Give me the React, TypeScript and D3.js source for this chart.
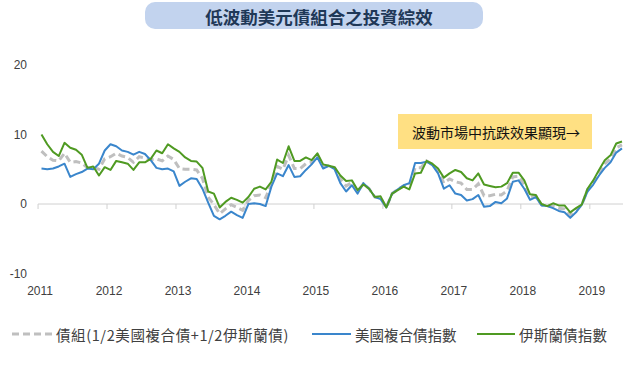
import React, { useEffect, useRef } from 'react';
import * as d3 from 'd3';

// 年度刻度
const years = ['2011', '2012', '2013', '2014', '2015', '2016', '2017', '2018', '2019'];
const yTicks = [-10, 0, 10, 20];

const seriesNames = ['債組(1/2美國複合債+1/2伊斯蘭債)', '美國複合債指數', '伊斯蘭債指數'];

// 月資料 2011/01 - 2019/06 (%)
const usAgg = [
  5.1, 5.0, 5.1, 5.4, 5.8, 3.9, 4.3, 4.6, 5.1, 5.0, 5.8, 7.7,
  8.6, 8.3, 7.7, 7.5, 7.1, 7.5, 7.2, 6.3, 5.2, 5.0, 5.1, 4.7,
  2.6, 3.2, 3.7, 3.6, 2.2, 0.2, -1.7, -2.2, -1.7, -1.1, -1.6, -2.0,
  0.0, 0.1, 0.0, -0.3, 2.5, 4.4, 4.0, 5.6, 3.9, 4.0, 4.9, 5.7,
  6.7, 5.1, 5.5, 5.0, 3.0, 1.8, 2.7, 1.5, 3.0, 2.2, 1.0, 0.7,
  -0.5, 1.5, 2.1, 2.7, 3.0, 5.9, 5.9, 6.1, 5.6, 4.4, 2.2, 2.7,
  1.5, 1.3, 0.5, 0.7, 1.3, -0.4, -0.3, 0.3, 0.1, 0.8, 3.2, 3.4,
  2.2, 0.6, 1.0, -0.2, -0.3, -0.6, -1.0, -1.2, -2.0, -1.2, -0.1, 1.8,
  2.8, 4.1, 5.2, 6.0, 7.4, 8.0,
];

const islamic = [
  10.0, 8.6, 7.5, 6.9, 8.8, 8.1, 7.8, 7.1, 5.2, 5.4, 4.1, 5.3,
  4.9, 6.2, 6.0, 5.8, 4.9, 6.0, 6.0, 6.5, 7.7, 7.3, 8.6, 8.0,
  7.5, 6.7, 6.2, 6.1, 5.2, 1.8, 1.5, -0.5, 0.3, 0.9, 0.6, 0.2,
  1.0, 2.2, 2.5, 2.1, 3.2, 6.4, 5.9, 8.3, 6.2, 6.2, 6.7, 6.3,
  7.3, 5.7, 5.5, 5.3, 4.1, 3.3, 3.4, 2.0, 2.8, 2.2, 1.0, 1.1,
  -0.5, 1.5, 2.0, 2.5, 2.1, 4.4, 4.5, 6.2, 5.8, 5.1, 3.8, 4.4,
  4.9, 4.6, 3.7, 3.4, 4.4, 2.8, 2.6, 2.4, 2.5, 3.0, 4.5, 4.5,
  3.4, 1.4, 1.3, 0.0, -0.3, 0.1, -0.2, -0.2, -1.2, -0.6, -0.1, 2.2,
  3.4, 4.9, 6.3, 7.0, 8.7, 9.0,
];

const blend = [
  7.6, 6.8, 6.3, 6.2, 7.3, 6.0, 6.1, 5.9, 5.2, 5.2, 5.0, 6.5,
  6.8, 7.3, 6.9, 6.7, 6.0, 6.8, 6.6, 6.4, 6.5, 6.2, 6.9, 6.4,
  5.1, 5.0, 5.0, 4.9, 3.7, 1.0, -0.1, -1.4, -0.7, -0.1, -0.5, -0.9,
  0.5, 1.2, 1.3, 0.9, 2.9, 5.4, 5.0, 7.0, 5.1, 5.1, 5.8, 6.0,
  7.0, 5.4, 5.5, 5.2, 3.6, 2.6, 3.1, 1.8, 2.9, 2.2, 1.0, 0.9,
  -0.5, 1.5, 2.1, 2.6, 2.6, 5.2, 5.2, 6.2, 5.7, 4.8, 3.0, 3.6,
  3.2, 3.0, 2.1, 2.1, 2.9, 1.2, 1.2, 1.4, 1.3, 1.9, 3.9, 4.0,
  2.8, 1.0, 1.2, -0.1, -0.3, -0.3, -0.6, -0.7, -1.6, -0.9, -0.1, 2.0,
  3.1, 4.5, 5.8, 6.5, 8.1, 8.5,
];

const CJK = '"Noto Sans CJK TC", "Noto Sans", sans-serif';
const NUM = '"Liberation Sans", Arial, sans-serif';

export default function App() {
  const svgRef = useRef<SVGSVGElement>(null);

  useEffect(() => {
    if (!svgRef.current) return;
    document.body.style.margin = '0';

    const svg = d3.select(svgRef.current);
    svg.selectAll('*').remove();

    const x = d3.scaleLinear().domain([0, usAgg.length - 1]).range([41.5, 622]);
    const y = d3.scaleLinear().domain([-10, 20]).range([273.5, 65]);

    // 標題
    svg.append('rect')
      .attr('x', 145).attr('y', 2).attr('width', 338).attr('height', 27)
      .attr('rx', 10).attr('fill', '#c2d3ee');
    svg.append('text')
      .attr('x', 319).attr('y', 16)
      .attr('text-anchor', 'middle').attr('dominant-baseline', 'central')
      .attr('font-family', CJK).attr('font-size', 17.5).attr('font-weight', 'bold')
      .attr('fill', '#1f3857')
      .text('低波動美元債組合之投資綜效');

    // y 軸標籤
    svg.append('g').selectAll('text')
      .data(yTicks).enter().append('text')
      .attr('x', 27).attr('y', d => y(d))
      .attr('text-anchor', 'end').attr('dominant-baseline', 'central')
      .attr('font-family', NUM).attr('font-size', 12).attr('fill', '#404040')
      .text(d => d);

    // x 軸 (0 線)
    const yearPos = (k: number) => x(12 * k - 0.6);
    svg.append('line')
      .attr('x1', yearPos(0)).attr('x2', x(usAgg.length - 1) + 1)
      .attr('y1', y(0)).attr('y2', y(0))
      .attr('stroke', '#d0d0d0').attr('stroke-width', 1);
    svg.append('g').selectAll('line')
      .data(years).enter().append('line')
      .attr('x1', (_, i) => yearPos(i)).attr('x2', (_, i) => yearPos(i))
      .attr('y1', y(0)).attr('y2', y(0) + 5)
      .attr('stroke', '#d0d0d0');
    svg.append('g').selectAll('text')
      .data(years).enter().append('text')
      .attr('x', (_, i) => yearPos(i) + 2).attr('y', 291)
      .attr('text-anchor', 'middle').attr('dominant-baseline', 'central')
      .attr('font-family', NUM).attr('font-size', 12).attr('fill', '#404040')
      .text(d => d);

    const line = d3.line<number>().x((_, i) => x(i)).y(d => y(d));

    svg.append('path').datum(blend)
      .attr('d', line).attr('fill', 'none')
      .attr('stroke', '#bfbfbf').attr('stroke-width', 3)
      .attr('stroke-dasharray', '7,4');
    svg.append('path').datum(usAgg)
      .attr('d', line).attr('fill', 'none')
      .attr('stroke', '#3a86cc').attr('stroke-width', 2)
      .attr('stroke-linejoin', 'round');
    svg.append('path').datum(islamic)
      .attr('d', line).attr('fill', 'none')
      .attr('stroke', '#4f9a22').attr('stroke-width', 2)
      .attr('stroke-linejoin', 'round');

    // 註解框
    svg.append('rect')
      .attr('x', 398).attr('y', 114).attr('width', 194).attr('height', 35)
      .attr('fill', '#ffe083');
    svg.append('text')
      .attr('x', 412).attr('y', 132)
      .attr('dominant-baseline', 'central')
      .attr('font-family', CJK).attr('font-size', 14).attr('fill', '#111')
      .text('波動市場中抗跌效果顯現→');

    // 圖例
    const legend = [
      { x: 12, color: '#bfbfbf', w: 3, dash: '7,4', len: 40, ls: 0.6 },
      { x: 312, color: '#3a86cc', w: 2, dash: null, len: 39, ls: 0 },
      { x: 477, color: '#4f9a22', w: 2, dash: null, len: 38, ls: 0.2 },
    ];
    const lg = svg.append('g');
    legend.forEach((l, i) => {
      lg.append('line')
        .attr('x1', l.x).attr('x2', l.x + l.len)
        .attr('y1', 334).attr('y2', 334)
        .attr('stroke', l.color).attr('stroke-width', l.w)
        .attr('stroke-dasharray', l.dash);
      lg.append('text')
        .attr('x', l.x + l.len + 4).attr('y', 334)
        .attr('dominant-baseline', 'central')
        .attr('font-family', CJK).attr('font-size', 14.5).attr('fill', '#404040')
        .attr('letter-spacing', l.ls)
        .text(seriesNames[i]);
    });
  }, []);

  return <svg ref={svgRef} width={640} height={365} style={{ display: 'block' }} />;
}
